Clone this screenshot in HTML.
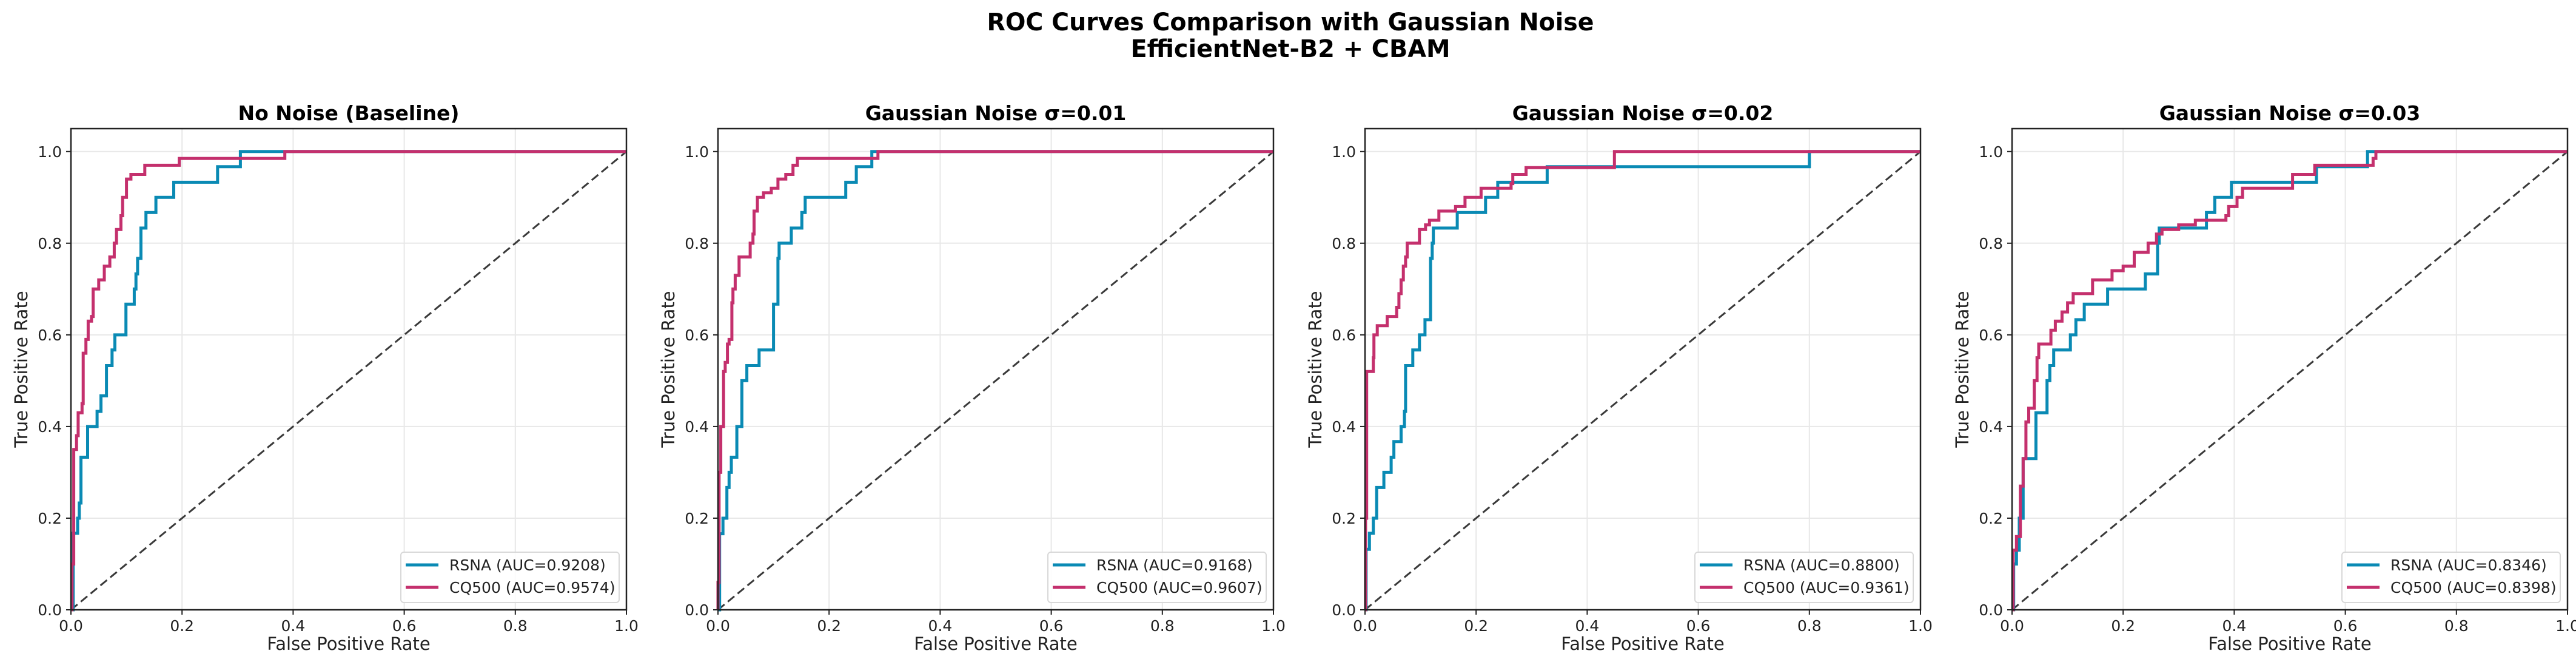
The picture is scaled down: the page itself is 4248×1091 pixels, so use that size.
<!DOCTYPE html>
<html><head><meta charset="utf-8">
<style>
html,body{margin:0;padding:0;background:#fff;}
svg{display:block;font-family:"DejaVu Sans","Liberation Sans",sans-serif;}
</style></head>
<body>
<svg id="fig" width="4248" height="1091" viewBox="0 0 4248 1091" xmlns="http://www.w3.org/2000/svg">
<rect width="4248" height="1091" fill="#fff"/>
<text x="2128" y="50" text-anchor="middle" font-size="40" font-weight="bold" textLength="1001" lengthAdjust="spacingAndGlyphs">ROC Curves Comparison with Gaussian Noise</text>
<text x="2128" y="94" text-anchor="middle" font-size="40" font-weight="bold" textLength="527" lengthAdjust="spacingAndGlyphs">EfficientNet-B2 + CBAM</text>
<g id="panels"></g>
</svg>
<script>
const panelTitles = ["No Noise (Baseline)", "Gaussian Noise σ=0.01", "Gaussian Noise σ=0.02", "Gaussian Noise σ=0.03"];
const rsnaAuc = ["0.9208", "0.9168", "0.8800", "0.8346"];
const cq500Auc = ["0.9574", "0.9607", "0.9361", "0.8398"];
const tickValues = [0, 0.2, 0.4, 0.6, 0.8, 1.0];
const tickLabels = ["0.0", "0.2", "0.4", "0.6", "0.8", "1.0"];

const p1RsnaFpr = [0.004,0.012,0.015,0.018,0.03,0.047,0.054,0.064,0.074,0.079,0.099,0.114,0.117,0.12,0.126,0.135,0.153,0.185,0.264,0.305];
const p1RsnaTpr = [0.167,0.2,0.233,0.333,0.4,0.433,0.467,0.533,0.567,0.6,0.667,0.7,0.733,0.767,0.833,0.867,0.9,0.933,0.967,1.0];
const p1CqFpr = [0.002,0.005,0.01,0.013,0.02,0.022,0.027,0.031,0.037,0.04,0.05,0.06,0.07,0.078,0.082,0.09,0.093,0.1,0.108,0.133,0.195,0.385];
const p1CqTpr = [0.1,0.35,0.38,0.43,0.45,0.56,0.59,0.63,0.64,0.7,0.72,0.75,0.77,0.8,0.83,0.86,0.9,0.94,0.95,0.97,0.985,1.0];

const p2RsnaFpr = [0.003,0.009,0.016,0.02,0.024,0.034,0.043,0.052,0.074,0.1,0.108,0.11,0.132,0.151,0.157,0.23,0.249,0.277];
const p2RsnaTpr = [0.166,0.2,0.267,0.3,0.333,0.4,0.5,0.533,0.567,0.667,0.767,0.8,0.833,0.867,0.9,0.933,0.967,1.0];
const p2CqFpr = [0.0,0.002,0.005,0.01,0.013,0.017,0.02,0.025,0.027,0.031,0.038,0.058,0.063,0.065,0.071,0.082,0.096,0.108,0.122,0.135,0.143,0.288];
const p2CqTpr = [0.06,0.3,0.4,0.52,0.54,0.58,0.59,0.67,0.7,0.73,0.77,0.8,0.82,0.87,0.9,0.91,0.92,0.94,0.95,0.97,0.985,1.0];

const p3RsnaFpr = [0.002,0.008,0.015,0.021,0.034,0.047,0.052,0.065,0.071,0.073,0.086,0.098,0.108,0.118,0.121,0.123,0.166,0.217,0.239,0.328,0.8];
const p3RsnaTpr = [0.132,0.167,0.2,0.267,0.3,0.333,0.367,0.4,0.433,0.533,0.567,0.6,0.633,0.767,0.8,0.833,0.867,0.9,0.933,0.967,1.0];
const p3CqFpr = [0.001,0.003,0.015,0.016,0.022,0.04,0.057,0.061,0.065,0.069,0.073,0.076,0.098,0.109,0.116,0.133,0.163,0.18,0.209,0.263,0.266,0.29,0.449];
const p3CqTpr = [0.2,0.52,0.55,0.6,0.62,0.64,0.66,0.69,0.72,0.75,0.77,0.8,0.83,0.84,0.85,0.87,0.88,0.9,0.92,0.93,0.95,0.965,1.0];

const p4RsnaFpr = [0.003,0.008,0.013,0.02,0.043,0.063,0.068,0.075,0.105,0.115,0.13,0.172,0.24,0.262,0.265,0.35,0.365,0.395,0.548,0.64];
const p4RsnaTpr = [0.1,0.13,0.2,0.33,0.43,0.5,0.533,0.567,0.6,0.633,0.667,0.7,0.733,0.8,0.833,0.867,0.9,0.933,0.967,1.0];
const p4CqFpr = [0.002,0.008,0.015,0.02,0.025,0.03,0.04,0.045,0.048,0.07,0.078,0.09,0.1,0.11,0.145,0.18,0.2,0.22,0.245,0.26,0.27,0.3,0.33,0.385,0.39,0.405,0.415,0.505,0.545,0.65,0.655];
const p4CqTpr = [0.13,0.16,0.27,0.33,0.41,0.44,0.5,0.55,0.58,0.61,0.63,0.65,0.67,0.69,0.72,0.74,0.75,0.78,0.8,0.82,0.83,0.84,0.85,0.86,0.88,0.9,0.92,0.95,0.97,0.985,1.0];

const rsnaFprs = [p1RsnaFpr, p2RsnaFpr, p3RsnaFpr, p4RsnaFpr];
const rsnaTprs = [p1RsnaTpr, p2RsnaTpr, p3RsnaTpr, p4RsnaTpr];
const cqFprs = [p1CqFpr, p2CqFpr, p3CqFpr, p4CqFpr];
const cqTprs = [p1CqTpr, p2CqTpr, p3CqTpr, p4CqTpr];

const NS = "http://www.w3.org/2000/svg";
const AX_LEFTS = [117, 1184, 2251, 3318];
const AX_W = 916, AX_TOP = 212, AX_BOT = 1005, Y_MAX = 1.05;
const RSNA_COLOR = "#0a8ab4", CQ_COLOR = "#c4306d";

function mk(tag, attrs, parent) {
  const el = document.createElementNS(NS, tag);
  for (const k in attrs) el.setAttribute(k, attrs[k]);
  parent.appendChild(el);
  return el;
}
const root = document.getElementById("panels");

AX_LEFTS.forEach((left, p) => {
  const xs = v => left + v * AX_W;
  const ys = v => AX_BOT - v / Y_MAX * (AX_BOT - AX_TOP);
  const g = mk("g", {}, root);
  
  

  // grid
  tickValues.forEach((t, i) => {
    const gx = mk("line", {x1: xs(t), x2: xs(t), y1: AX_TOP, y2: AX_BOT, stroke: "#e8e8e8", "stroke-width": 2}, g);
    
    
    const gy = mk("line", {x1: left, x2: left + AX_W, y1: ys(t), y2: ys(t), stroke: "#e8e8e8", "stroke-width": 2}, g);
    
    
  });

  // diagonal
  const diag = mk("line", {x1: xs(0), y1: ys(0), x2: xs(1), y2: ys(1), stroke: "#3a3a3a", "stroke-width": 3, "stroke-dasharray": "14 7"}, g);
  
  

  function curve(fpr, tpr, color, name) {
    let d = "M" + xs(0) + "," + ys(0);
    for (let i = 0; i < fpr.length; i++) {
      d += " H" + xs(fpr[i]).toFixed(1) + " V" + ys(tpr[i]).toFixed(1);
    }
    d += " H" + xs(1);
    const path = mk("path", {d: d, fill: "none", stroke: color, "stroke-width": 5, "stroke-linejoin": "miter"}, g);
    
    
  }
  curve(rsnaFprs[p], rsnaTprs[p], RSNA_COLOR, 'rsna-roc-curve');
  curve(cqFprs[p], cqTprs[p], CQ_COLOR, 'cq500-roc-curve');

  // frame
  const frame = mk("rect", {x: left, y: AX_TOP, width: AX_W, height: AX_BOT - AX_TOP, fill: "none", stroke: "#222", "stroke-width": 2.5}, g);
  
  

  // ticks
  tickValues.forEach((t, i) => {
    mk("line", {x1: xs(t), x2: xs(t), y1: AX_BOT, y2: AX_BOT + 8, stroke: "#222", "stroke-width": 2}, g);
    const tx = mk("text", {x: xs(t), y: AX_BOT + 35, "text-anchor": "middle", "font-size": 25, fill: "#222"}, g);
    tx.textContent = tickLabels[i];
    
    
    mk("line", {x1: left - 8, x2: left, y1: ys(t), y2: ys(t), stroke: "#222", "stroke-width": 2}, g);
    const ty = mk("text", {x: left - 15, y: ys(t) + 9, "text-anchor": "end", "font-size": 25, fill: "#222"}, g);
    ty.textContent = tickLabels[i];
    
    
  });

  // titles and labels
  const cx = left + AX_W / 2;
  const title = mk("text", {x: cx, y: 198, "text-anchor": "middle", "font-size": 33, "font-weight": "bold", fill: "#000"}, g);
  title.textContent = panelTitles[p];
  
  

  const xl = mk("text", {x: cx, y: 1071, "text-anchor": "middle", "font-size": 29, fill: "#222"}, g);
  xl.textContent = "False Positive Rate";
  
  

  const ymid = (AX_TOP + AX_BOT) / 2;
  const yl = mk("text", {x: left - 72, y: ymid, "text-anchor": "middle", "font-size": 29, fill: "#222", transform: "rotate(-90 " + (left - 72) + " " + ymid + ")"}, g);
  yl.textContent = "True Positive Rate";
  
  

  // legend
  const lgX = left + AX_W - 12 - 360, lgY = AX_BOT - 12 - 83;
  const lg = mk("g", {}, g);
  
  
  mk("rect", {x: lgX, y: lgY, width: 360, height: 83, rx: 5, fill: "#fff", "fill-opacity": 0.85, stroke: "#d8d8d8", "stroke-width": 2}, lg);
  const entries = [["RSNA (AUC=" + rsnaAuc[p] + ")", RSNA_COLOR, 21], ["CQ500 (AUC=" + cq500Auc[p] + ")", CQ_COLOR, 58]];
  entries.forEach(e => {
    const ent = mk("g", {}, lg);
    
    
    mk("line", {x1: lgX + 8, x2: lgX + 62, y1: lgY + e[2], y2: lgY + e[2], stroke: e[1], "stroke-width": 5}, ent);
    const t = mk("text", {x: lgX + 80, y: lgY + e[2] + 9, "font-size": 25, fill: "#222"}, ent);
    t.textContent = e[0];
  });
});
</script>
</body></html>
